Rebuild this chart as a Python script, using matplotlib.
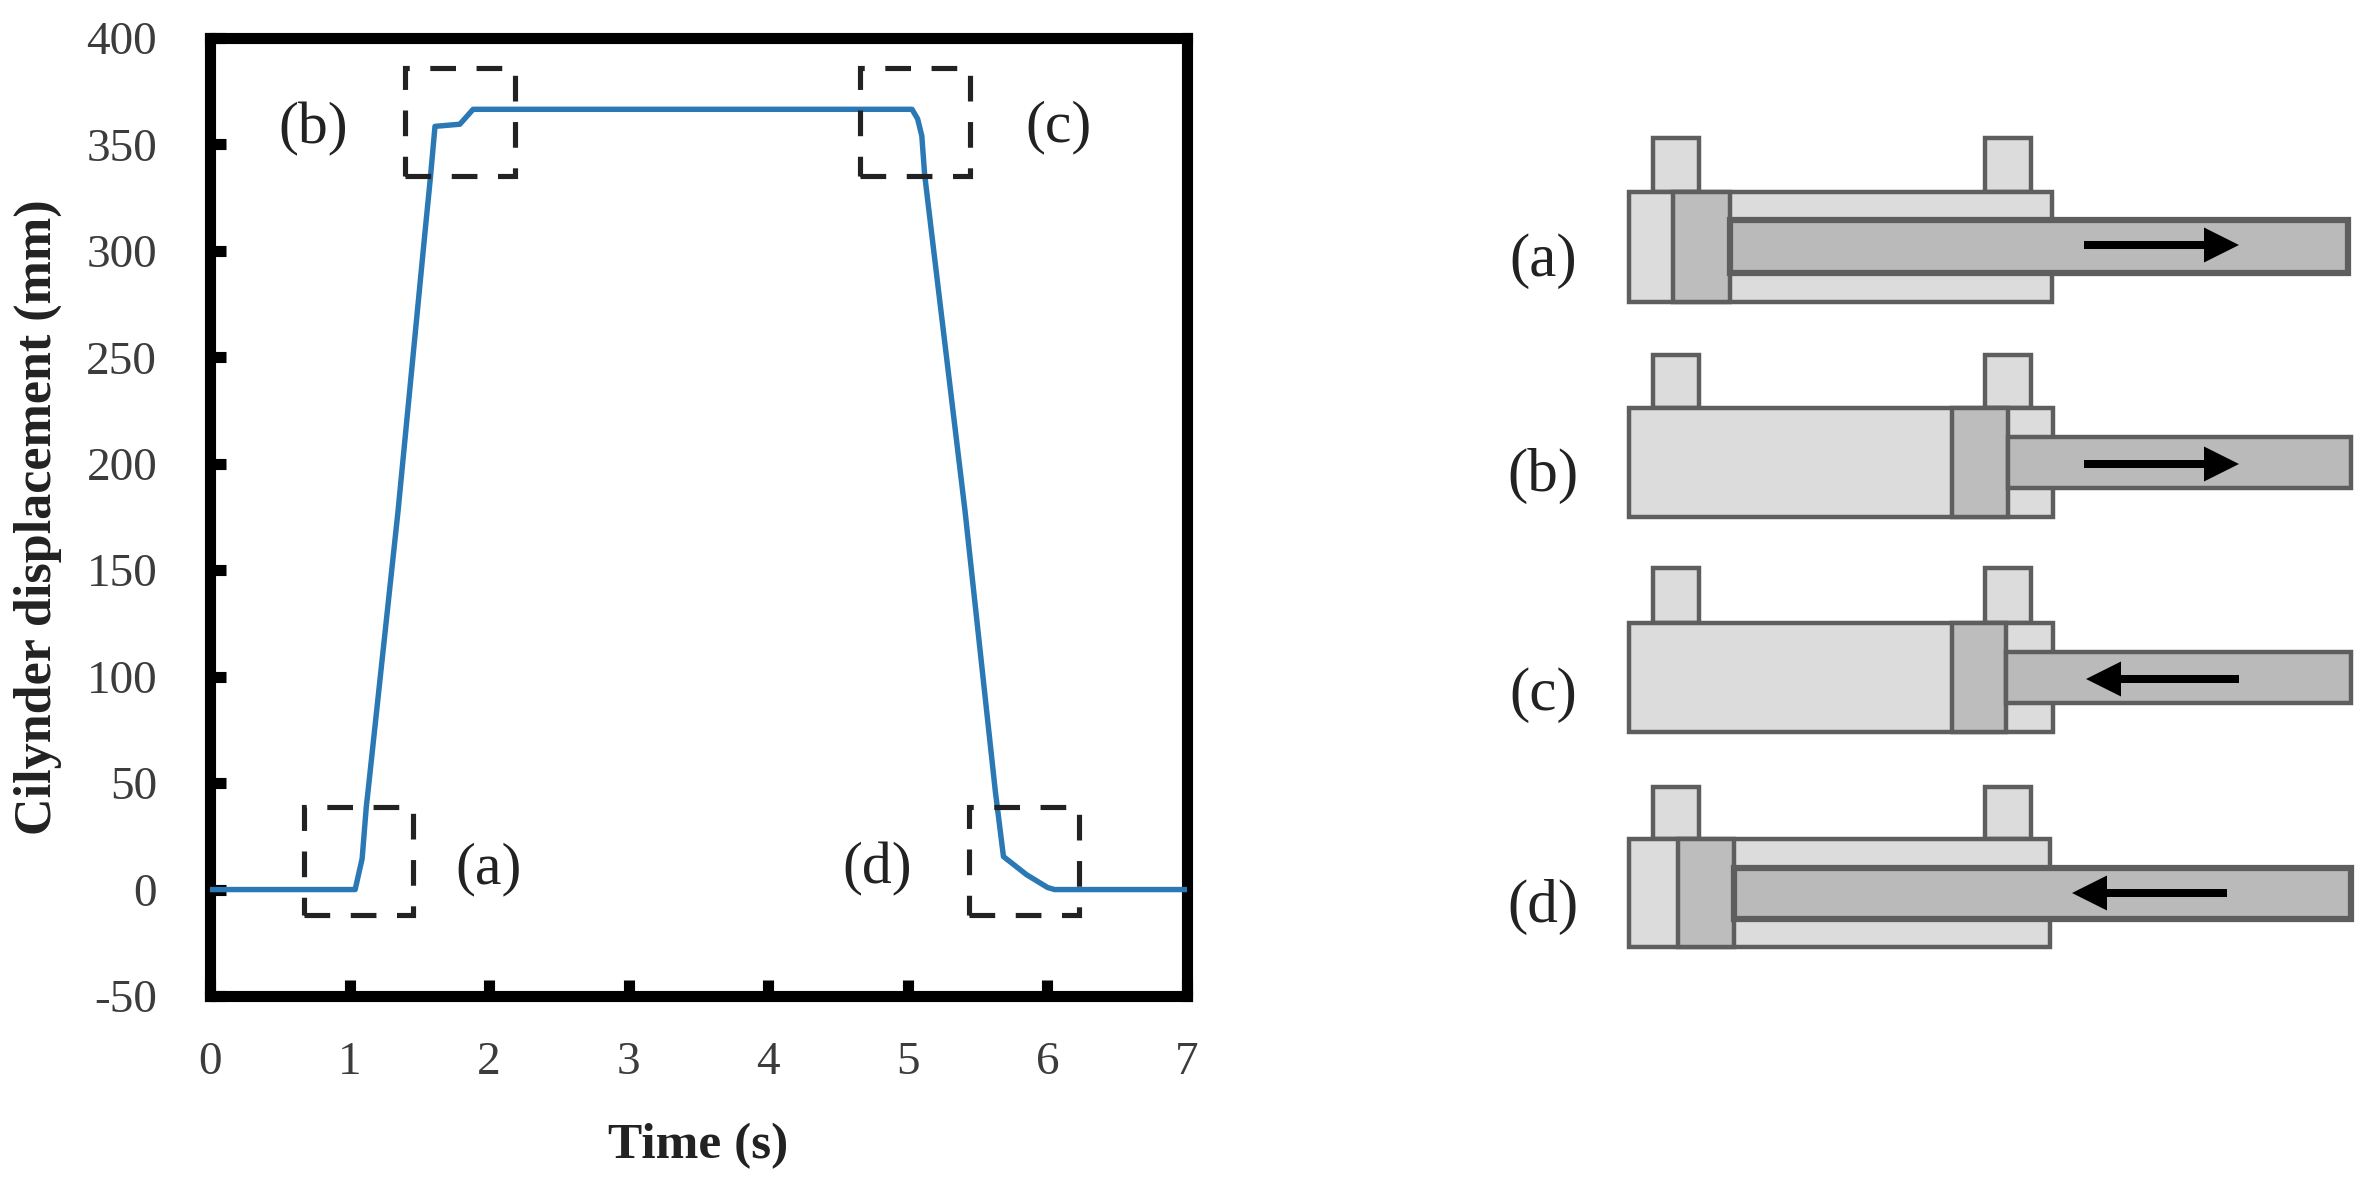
import matplotlib
matplotlib.use("Agg")
import matplotlib.pyplot as plt
from matplotlib.patches import Rectangle

plt.rcParams['font.family'] = ['Liberation Serif', 'DejaVu Serif']
plt.rcParams['axes.unicode_minus'] = False

# curve
time_s = [0, 1.04, 1.09, 1.12, 1.132, 1.347, 1.54, 1.58, 1.612, 1.79, 1.885,
          5.03, 5.07, 5.1, 5.12, 5.17, 5.41, 5.627, 5.685, 5.85, 6.0, 6.05, 7]
displacement_mm = [0, 0, 14.5, 39, 46, 177.6, 308.5, 335, 358.5, 359.5, 366.5,
                   366.5, 362, 354, 336, 308.5, 177.6, 46, 15.5, 7, 1, 0, 0]
x_ticks = [0, 1, 2, 3, 4, 5, 6, 7]
y_ticks = [-50, 0, 50, 100, 150, 200, 250, 300, 350, 400]
box_names = ['(a)', '(b)', '(c)', '(d)']

W, H = 2364, 1178
LEFT, RIGHT, TOP, BOTTOM = 210, 1187, 38, 996
TICK_COLOR = '#3c3c3c'
BODY = '#dcdcdc'
PISTON = '#bdbdbd'
ROD = '#bababa'
EDGE = '#5e5e5e'

fig = plt.figure(figsize=(W / 100, H / 100), dpi=100)
ax = fig.add_axes([LEFT / W, 1 - BOTTOM / H, (RIGHT - LEFT) / W, (BOTTOM - TOP) / H])

ax.plot(time_s, displacement_mm, color='#2a78b4', lw=3.9, zorder=3)
ax.set_xlim(0, 7)
ax.set_ylim(-50, 400)
ax.set_xticks(x_ticks)
ax.set_yticks(y_ticks)
ax.tick_params(direction='in', length=11.5, width=8, color='black', top=False, right=False,
               labelsize=34, labelcolor=TICK_COLOR)
ax.tick_params(axis='x', pad=33)
ax.tick_params(axis='y', pad=38)
for s in ax.spines.values():
    s.set_linewidth(8)

# dashed boxes on the curve
boxes = [(0.67, 1.457, -12, 39), (1.397, 2.185, 335, 386),
         (4.656, 5.444, 335, 386), (5.437, 6.228, -12, 39)]
for x0, x1, y0, y1 in boxes:
    ax.add_patch(Rectangle((x0, y0), x1 - x0, y1 - y0, fill=False, ec='#222222', lw=3.7,
                           ls=(0, (5, 4)), zorder=4))

# everything else is placed in image pixels
over = fig.add_axes([0, 0, 1, 1])
over.set_xlim(0, W)
over.set_ylim(H, 0)
over.axis('off')

over.text(698, 1146, 'Time (s)', fontsize=37, fontweight='bold', color='#222222',
          ha='center', va='center')
over.text(38, 517, 'Cilynder displacement (mm)', fontsize=37.5, fontweight='bold', color='#222222',
          rotation=90, ha='center', va='center')

chart_labels = [(489, 869), (313, 129), (1058, 127), (877, 869)]
for name, (x, y) in zip(box_names, chart_labels):
    over.text(x, y, name, fontsize=43, color='#222222', ha='center', va='center')

side_labels_y = [261, 476, 695, 907]
for name, y in zip(box_names, side_labels_y):
    over.text(1543, y, name, fontsize=44, color='#222222', ha='center', va='center')


def rect(x0, y0, x1, y1, color, z, lw=3.2):
    over.add_patch(Rectangle((x0, y0), x1 - x0, y1 - y0, fc=color, ec=EDGE, lw=lw, zorder=z))


def cylinder(top, bottom, mount_top, body_right, p0, p1, rod_end, rod_top, rod_bot,
             tail, tip, arrow_y, rod_lw=3.2):
    rect(1653, mount_top, 1699, top, BODY, 2)
    rect(1985, mount_top, 2031, top, BODY, 2)
    rect(1629, top, body_right, bottom, BODY, 3)
    rect(p0, top, p1, bottom, PISTON, 4)
    rect(p1, rod_top, rod_end, rod_bot, ROD, 5, rod_lw)
    over.arrow(tail, arrow_y, tip - tail, 0, width=8, head_width=35, head_length=35,
               length_includes_head=True, fc='black', ec='black', lw=0, zorder=6)


cylinder(192, 302, 138, 2052, 1673, 1730, 2348, 220, 273, 2084, 2239, 245, rod_lw=4.5)
cylinder(408, 517, 355, 2053, 1952, 2008, 2351, 437, 488, 2084, 2239, 464)
cylinder(623, 732, 568, 2053, 1952, 2006, 2351, 652, 703, 2239, 2086, 679)
cylinder(839, 947, 787, 2050, 1678, 1734, 2351, 868, 919, 2227, 2072, 893, rod_lw=4.5)

fig.savefig('out.png', dpi=100, facecolor='white')
